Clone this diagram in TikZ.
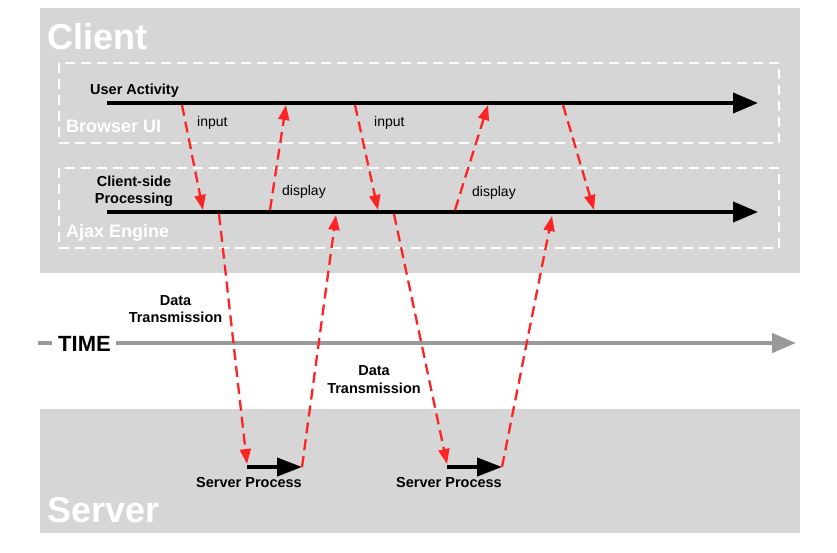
\documentclass[tikz,border=0pt]{standalone}
\usepackage{fontspec}
\setmainfont{Liberation Sans}
\usetikzlibrary{arrows.meta}
\definecolor{panel}{HTML}{D6D6D6}
\definecolor{redline}{HTML}{FF2424}
\definecolor{timegray}{HTML}{999999}
\tikzset{
  panelbox/.style={fill=panel, draw=none},
  layerbox/.style={draw=white, line width=2pt, dash pattern=on 10pt off 6pt},
  timeline/.style={line width=4pt, -{Triangle[length=25pt,width=20pt]}},
  servline/.style={line width=4pt, -{Triangle[length=25pt,width=18pt]}},
  redarrow/.style={draw=redline, line width=2.3pt, dash pattern=on 11pt off 6pt, -{Triangle[length=15pt,width=11pt]}},
  bigwhite/.style={text=white, font=\fontsize{36}{40}\selectfont\bfseries, inner sep=0pt},
  layerlabel/.style={text=white, font=\fontsize{18}{20}\selectfont\bfseries, inner sep=0pt},
  boldlabel/.style={font=\fontsize{14.5}{17}\selectfont\bfseries, inner sep=0pt, align=center},
  plainlabel/.style={font=\fontsize{14}{16}\selectfont, inner sep=0pt},
}
\begin{document}
\begin{tikzpicture}[x=1pt,y=-1pt]
\useasboundingbox (0,0) rectangle (837,553);
\fill[white] (0,0) rectangle (837,553);

% panels
\node[panelbox, minimum width=760pt, minimum height=265pt, anchor=north west] (client) at (40,8) {};
\node[panelbox, minimum width=760pt, minimum height=124pt, anchor=north west] (server) at (40,409) {};

% layer boxes
\node[layerbox, minimum width=720pt, minimum height=80pt, anchor=north west] (browser) at (58,62) {};
\node[layerbox, minimum width=720pt, minimum height=80pt, anchor=north west] (ajax) at (58,167) {};

% panel / layer titles
\node[bigwhite, anchor=base west] (clientT) at (47,50) {Client};
\node[bigwhite, anchor=base west] (serverT) at (47,522) {Server};
\node[layerlabel, anchor=base west] (browserT) at (66,133) {Browser UI};
\node[layerlabel, anchor=base west] (ajaxT) at (66,237) {Ajax Engine};

% time lines
\coordinate (uaS) at (107,103);
\coordinate (uaE) at (758,103);
\coordinate (cpS) at (107,212);
\coordinate (cpE) at (758,212);
\draw[timeline] (uaS) -- (uaE);
\draw[timeline] (cpS) -- (cpE);

% TIME axis
\coordinate (tdA) at (38,343);
\coordinate (tdB) at (52,343);
\coordinate (tlS) at (116,343);
\coordinate (tlE) at (796,343);
\draw[timegray, line width=4.5pt] (tdA) -- (tdB);
\draw[timegray, line width=4.5pt, -{Triangle[length=24pt,width=19pt]}] (tlS) -- (tlE);
\node[font=\fontsize{22}{24}\selectfont\bfseries, inner sep=0pt, anchor=base west] (timeT) at (58,351) {TIME};

% server processes
\coordinate (sp1S) at (247,467);
\coordinate (sp1E) at (302,467);
\coordinate (sp2S) at (447,467);
\coordinate (sp2E) at (502,467);
\draw[servline] (sp1S) -- (sp1E);
\draw[servline] (sp2S) -- (sp2E);

% red arrow endpoints
\coordinate (a1) at (182,105);  \coordinate (b1) at (203,210);
\coordinate (a2) at (270,210);  \coordinate (b2) at (286,105);
\coordinate (a3) at (355,105);  \coordinate (b3) at (378,210);
\coordinate (a4) at (455,210);  \coordinate (b4) at (488,105);
\coordinate (a5) at (563,105);  \coordinate (b5) at (594,210);
\coordinate (a6) at (219,214);  \coordinate (b6) at (247,464);
\coordinate (b7) at (336,215);
\coordinate (a8) at (394,214);  \coordinate (b8) at (447,464);
\coordinate (b9) at (552,216);

\draw[redarrow] (a1) -- (b1);
\draw[redarrow] (a2) -- (b2);
\draw[redarrow] (a3) -- (b3);
\draw[redarrow] (a4) -- (b4);
\draw[redarrow] (a5) -- (b5);
\draw[redarrow] (a6) -- (b6);
\draw[redarrow] (sp1E) -- (b7);
\draw[redarrow] (a8) -- (b8);
\draw[redarrow] (sp2E) -- (b9);

% labels
\node[boldlabel, anchor=base west] (uaT) at (90,95) {User Activity};
\node[boldlabel, anchor=base] (cpT1) at (134,187) {Client-side};
\node[boldlabel, anchor=base] (cpT2) at (134,204) {Processing};
\node[plainlabel, anchor=base west] (in1) at (197,127) {input};
\node[plainlabel, anchor=base west] (in2) at (374,127) {input};
\node[plainlabel, anchor=base west] (di1) at (282,196) {display};
\node[plainlabel, anchor=base west] (di2) at (472,197) {display};
\node[boldlabel, anchor=base] (dt1a) at (175.5,305) {Data};
\node[boldlabel, anchor=base] (dt1b) at (175.5,322) {Transmission};
\node[boldlabel, anchor=base] (dt2a) at (374,375) {Data};
\node[boldlabel, anchor=base] (dt2b) at (374,393) {Transmission};
\node[boldlabel, anchor=base] (sv1) at (249,487) {Server Process};
\node[boldlabel, anchor=base] (sv2) at (449,487) {Server Process};
\end{tikzpicture}
\end{document}
